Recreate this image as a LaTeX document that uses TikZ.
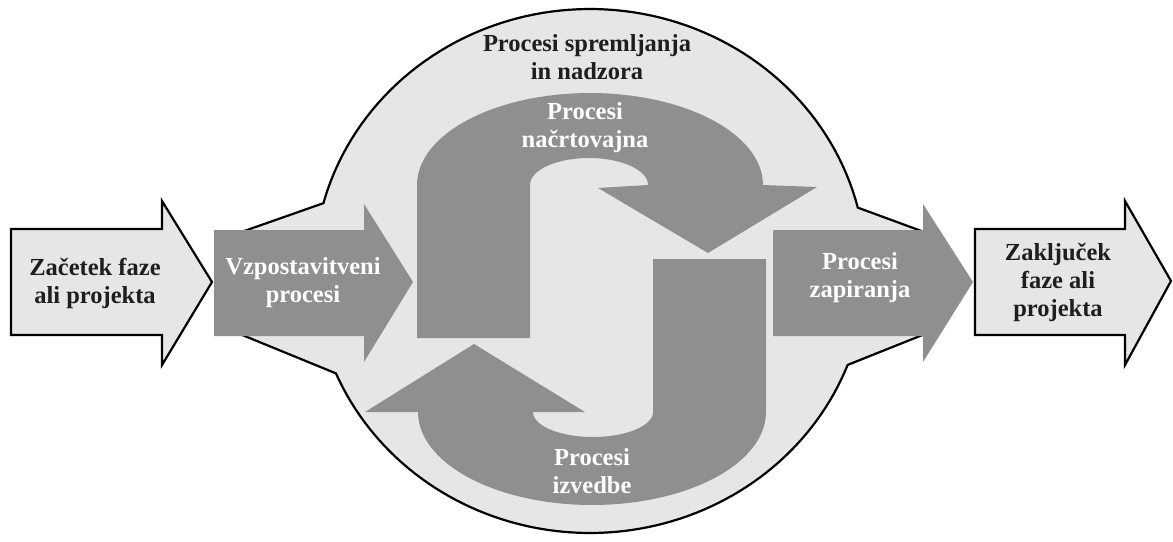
\documentclass[tikz,border=0pt]{standalone}
\usepackage{fontspec}
\setmainfont{Liberation Serif}
\definecolor{lightfill}{HTML}{E6E6E6}
\definecolor{darkfill}{HTML}{8F8F8F}
\definecolor{inktext}{HTML}{1E1E1E}
\begin{document}
\begin{tikzpicture}[x=1pt,y=-1pt,
  outlined/.style={fill=lightfill, draw=black, line width=2.2pt, line join=miter},
  darkshape/.style={fill=darkfill, draw=none},
  labeldark/.style={text=inktext, font=\fontsize{24.5}{28}\selectfont\bfseries, align=center, inner sep=0pt},
  labellight/.style={text=white, font=\fontsize{24.5}{28}\selectfont\bfseries, align=center, inner sep=0pt}]
\useasboundingbox[fill=white] (0,0) rectangle (1173,541);
% big monitoring blob
\draw[outlined] (230,236)
  -- plot[domain=195:346, samples=80] ({590+276*cos(\x)},{271+262*sin(\x)})
  -- (935,236) -- (935,330)
  -- plot[domain=21:157, samples=80] ({590+276*cos(\x)},{271+262*sin(\x)})
  -- (230,330) -- cycle;
% left and right outlined arrows
\draw[outlined] (11,229) -- (162,229) -- (162,201) -- (212,282) -- (162,365) -- (162,335) -- (11,335) -- cycle;
\draw[outlined] (975,229) -- (1125,229) -- (1125,201) -- (1171,281) -- (1125,365) -- (1125,335) -- (975,335) -- cycle;
% dark straight arrows
\fill[darkshape] (214,230) -- (364,230) -- (364,204) -- (413,282) -- (364,362) -- (364,336) -- (214,336) -- cycle;
\fill[darkshape] (773,230) -- (923,230) -- (923,204) -- (973,282) -- (923,362) -- (923,336) -- (773,336) -- cycle;
% top curved arrow (planning)
\fill[darkshape] (417,338) -- (417,185)
  -- plot[domain=180:360, samples=80] ({590+173*cos(\x)},{185+92*sin(\x)})
  -- (817,187) -- (708,253) -- (598,188) -- (648,185)
  -- plot[domain=360:180, samples=60] ({589+59*cos(\x)},{185+27*sin(\x)})
  -- (530,338) -- cycle;
% bottom curved arrow (execution)
\fill[darkshape] (766,259) -- (766,412)
  -- plot[domain=0:180, samples=80] ({592+174*cos(\x)},{412+93*sin(\x)})
  -- (365,412) -- (474,344) -- (585,412) -- (533,412)
  -- plot[domain=180:0, samples=60] ({593+60*cos(\x)},{412+25*sin(\x)})
  -- (653,259) -- cycle;
% labels
\node[labeldark] (start) at (95,283) {Začetek faze\\ali projekta};
\node[labellight] (init) at (303,283) {Vzpostavitveni\\procesi};
\node[labeldark] (monitor) at (587,57) {Procesi spremljanja\\in nadzora};
\node[labellight] (plan) at (585,128) {Procesi\\načrtovajna};
\node[labellight] (exec) at (592,471) {Procesi\\izvedbe};
\node[labellight] (close) at (860,278) {Procesi\\zapiranja};
\node[labeldark] (end) at (1058,282) {Zaključek\\faze ali\\projekta};
\end{tikzpicture}
\end{document}
